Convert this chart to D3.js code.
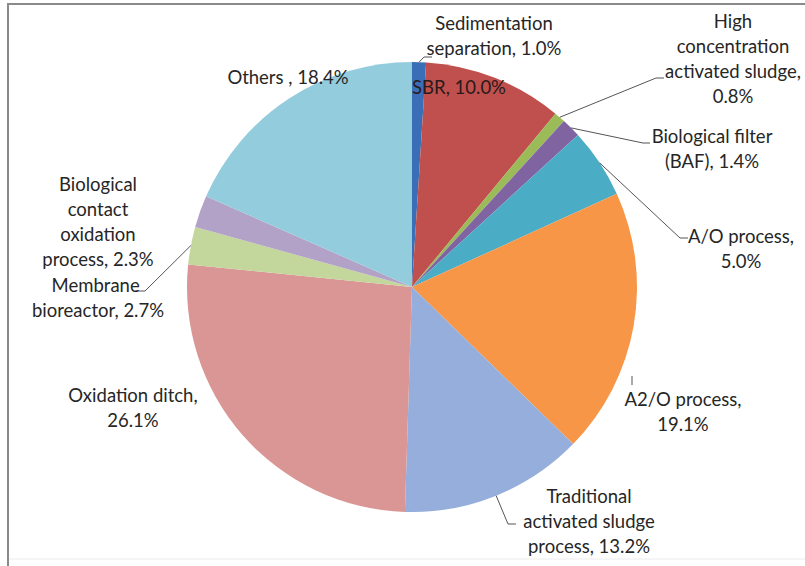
<!DOCTYPE html>
<html>
<head>
<meta charset="utf-8">
<script src="https://cdn.jsdelivr.net/npm/d3@7"></script>
<style>
  html, body { margin: 0; padding: 0; background: #fff; }
  svg { display: block; }
</style>
</head>
<body>
<svg id="chart" width="805" height="566"></svg>
<script>
// ---- data ----
const categories = [
  "Sedimentation separation",
  "SBR",
  "High concentration activated sludge",
  "Biological filter (BAF)",
  "A/O process",
  "A2/O process",
  "Traditional activated sludge process",
  "Oxidation ditch",
  "Membrane bioreactor",
  "Biological contact oxidation process",
  "Others"
];
const values = [1.0, 10.0, 0.8, 1.4, 5.0, 19.1, 13.2, 26.1, 2.7, 2.3, 18.4];
const colors = ["#3a6fb7", "#c0504d", "#9bbb59", "#8064a2", "#4bacc6", "#f79646",
                "#95aedb", "#d99694", "#c3d69b", "#b3a2c7", "#93cddd"];
const labelLines = [
  ["Sedimentation", "separation, 1.0%"],
  ["SBR, 10.0%"],
  ["High", "concentration", "activated sludge,", "0.8%"],
  ["Biological filter", "(BAF), 1.4%"],
  ["A/O process,", "5.0%"],
  ["A2/O process,", "19.1%"],
  ["Traditional", "activated sludge", "process, 13.2%"],
  ["Oxidation ditch,", "26.1%"],
  ["Membrane\u00a0", "bioreactor, 2.7%"],
  ["Biological", "contact", "oxidation", "process, 2.3%"],
  ["Others , 18.4%"]
];

// ---- layout ----
const W = 805, H = 566;
const cx = 412, cy = 287, R = 225;
const lineH = 25;
// label anchor (center x, first baseline y) and leader elbow
const labelLayout = [
  {x: 494, y: 30, elbow: [424, 57], end: [432, 57]},
  {x: 459, y: 94, color: "#2a1a1a"},
  {x: 733, y: 28, elbow: [656, 78], end: [664, 78]},
  {x: 712, y: 143, elbow: [643, 143], end: [650, 143]},
  {x: 741, y: 243, elbow: [680, 238], end: [688, 238]},
  {x: 683, y: 406, stub: [[632, 376], [632, 385]]},
  {x: 589, y: 503, elbow: [508, 524], end: [516, 524]},
  {x: 133, y: 402},
  {x: 98, y: 292, elbow: [145, 291], end: [135, 291]},
  {x: 98, y: 191},
  {x: 288, y: 84}
];

const svg = d3.select("#chart");

// frame
svg.append("line").attr("x1", 8).attr("y1", 4).attr("x2", W).attr("y2", 4)
  .attr("stroke", "#8a8a8a").attr("stroke-width", 2);
svg.append("line").attr("x1", 8).attr("y1", 3).attr("x2", 8).attr("y2", H)
  .attr("stroke", "#8a8a8a").attr("stroke-width", 2);
svg.append("line").attr("x1", 9).attr("y1", 559).attr("x2", W).attr("y2", 559)
  .attr("stroke", "#ececec").attr("stroke-width", 1);

const pie = d3.pie().sort(null).value(d => d)(values);
const arc = d3.arc().innerRadius(0).outerRadius(R);

const g = svg.append("g").attr("transform", `translate(${cx},${cy})`);
g.selectAll("path").data(pie).join("path")
  .attr("d", arc)
  .attr("fill", (d, i) => colors[i]);

// leader lines
const leaders = svg.append("g").attr("fill", "none").attr("stroke", "#555").attr("stroke-width", 1);
pie.forEach((d, i) => {
  const L = labelLayout[i];
  if (L.stub) {
    leaders.append("polyline").attr("points", L.stub.map(p => p.join(",")).join(" "));
  }
  if (!L.elbow) return;
  const a = (d.startAngle + d.endAngle) / 2;
  const p0 = [cx + R * Math.sin(a), cy - R * Math.cos(a)];
  leaders.append("polyline")
    .attr("points", [p0, L.elbow, L.end].map(p => p.join(",")).join(" "));
});

// labels
const labels = svg.append("g")
  .attr("font-family", "Lato, 'Open Sans', sans-serif")
  .attr("font-size", 18.5)
  .attr("fill", "#262626")
  .attr("text-anchor", "middle");
labelLines.forEach((lines, i) => {
  const L = labelLayout[i];
  const t = labels.append("text").attr("fill", L.color || null);
  lines.forEach((s, j) => {
    t.append("tspan").attr("x", L.x).attr("y", L.y + j * lineH).text(s);
  });
});
</script>
</body>
</html>
